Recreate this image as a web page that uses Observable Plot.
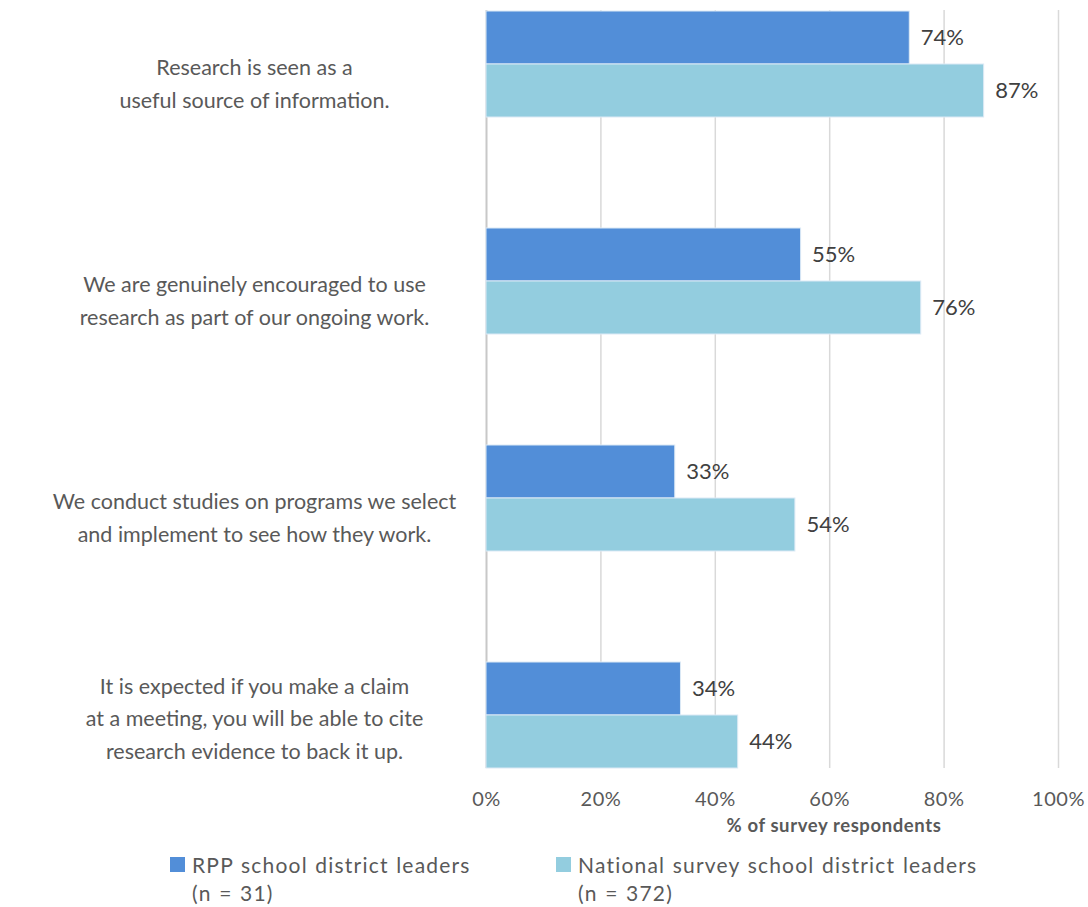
<!DOCTYPE html>
<html>
<head>
<meta charset="utf-8">
<script src="https://cdn.jsdelivr.net/npm/d3@7"></script>
<script src="https://cdn.jsdelivr.net/npm/@observablehq/plot@0.6"></script>
<style>
  body { margin: 0; background: #fff; }
  #wrap { position: relative; width: 1088px; height: 907px; font-family: Lato, "Open Sans", sans-serif; color: #595959; }
  #wrap svg { display: block; position: absolute; left: 0; top: 0; }
  g[aria-label="category-labels"] text { letter-spacing: 0.9px; word-spacing: 1px; }
  g[aria-label="value-labels"] text { letter-spacing: 0.3px; }
  g[aria-label="x-axis tick label"] text { letter-spacing: 0.5px; }
  .xtitle { position: absolute; top: 814px; left: 834px; transform: translateX(-50%); font-size: 18.5px; font-weight: bold; letter-spacing: 0.6px; white-space: nowrap; }
  .leg { position: absolute; top: 851px; font-size: 21px; line-height: 28px; letter-spacing: 1.2px; word-spacing: 1px; white-space: nowrap; }
  .leg .sw { position: absolute; left: -22px; top: 6px; width: 15px; height: 15px; }
</style>
</head>
<body>
<div id="wrap"></div>
<script>
const categories = [
  "\nResearch is seen as a\nuseful source of information.",
  "\nWe are genuinely encouraged to use\nresearch as part of our ongoing work.",
  "\nWe conduct studies on programs we select\nand implement to see how they work.",
  "It is expected if you make a claim\nat a meeting, you will be able to cite\nresearch evidence to back it up."
];
const seriesNames = ["RPP school district leaders", "National survey school district leaders"];
const seriesN = ["(n = 31)", "(n = 372)"];
const rppValues = [0.74, 0.55, 0.33, 0.34];
const nationalValues = [0.87, 0.76, 0.54, 0.44];
const xTicks = [0, 0.2, 0.4, 0.6, 0.8, 1.0];
const colors = ["#528ED8", "#93CDDF"];

const data = categories.flatMap((c, i) => [
  {cat: c, series: seriesNames[0], value: rppValues[i]},
  {cat: c, series: seriesNames[1], value: nationalValues[i]}
]);
const catData = categories.map(c => ({cat: c}));
const pct = d3.format(".0%");

const frame = {
  width: 1088, height: 845,
  marginLeft: 486, marginRight: 30, marginTop: 10, marginBottom: 77,
  style: {fontFamily: "Lato, 'Open Sans', sans-serif", background: "transparent", overflow: "visible"}
};

// Layer 1: gridlines, baseline and x axis (continuous across the whole plot area)
const grid = Plot.plot({
  ...frame,
  x: {domain: [0, 1], ticks: xTicks, tickFormat: pct},
  marks: [
    Plot.ruleX(xTicks.slice(1), {stroke: "#d9d9d9", strokeWidth: 1.5}),
    Plot.ruleX([0], {stroke: "#c8c8c8", strokeWidth: 2}),
    Plot.axisX({ticks: xTicks, tickFormat: pct, tickSize: 0, tickPadding: 23, fontSize: 20, fill: "#595959", label: null})
  ]
});

// Layer 2: grouped bars, value labels and category labels
const bars = Plot.plot({
  ...frame,
  x: {domain: [0, 1], axis: null},
  fy: {domain: categories, paddingInner: 0.507, paddingOuter: 0, axis: null, label: null},
  y: {domain: seriesNames, paddingInner: 0, paddingOuter: 0, axis: null},
  color: {domain: seriesNames, range: colors},
  marks: [
    Plot.barX(data, {fy: "cat", y: "series", x: "value", fill: "series", stroke: "#dbe9f5", strokeWidth: 1}),
    Plot.text(data, {fy: "cat", y: "series", x: "value", text: d => pct(d.value), textAnchor: "start", dx: 11, fontSize: 22, fill: "#404040", ariaLabel: "value-labels"}),
    Plot.text(catData, {fy: "cat", text: "cat", frameAnchor: "left", dx: -232, dy: 1, textAnchor: "middle", lineAnchor: "middle", lineHeight: 1.5, fontSize: 21.5, fill: "#595959", ariaLabel: "category-labels"})
  ]
});

const wrap = document.getElementById("wrap");
wrap.appendChild(grid);
wrap.appendChild(bars);

const t = document.createElement("div");
t.className = "xtitle";
t.textContent = "% of survey respondents";
wrap.appendChild(t);
const legLeft = [192, 578];
seriesNames.forEach((s, i) => {
  const d = document.createElement("div");
  d.className = "leg";
  d.style.left = legLeft[i] + "px";
  d.innerHTML = `<span class="sw" style="background:${colors[i]}"></span>${s}<br>${seriesN[i]}`;
  wrap.appendChild(d);
});
</script>
</body>
</html>
